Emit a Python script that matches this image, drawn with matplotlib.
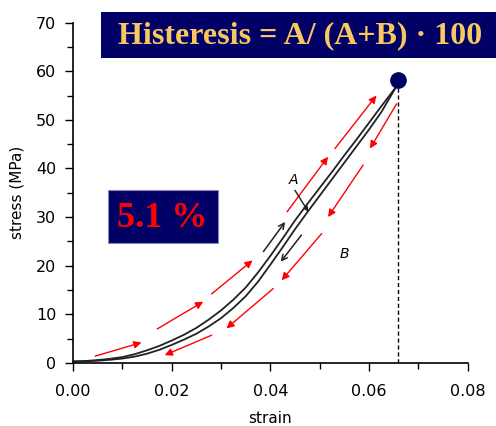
#!/usr/bin/env python3
# Stress-strain hysteresis loop (loading / unloading) with annotation boxes

import matplotlib.pyplot as plt
from matplotlib.patches import Rectangle
from matplotlib.ticker import MultipleLocator

# ===================== DATA =====================
STRAIN = [0.0, 0.0025, 0.005, 0.0075, 0.01, 0.0125, 0.015, 0.0175, 0.02,
          0.0225, 0.025, 0.0275, 0.03, 0.0325, 0.035, 0.0375, 0.04, 0.0425,
          0.045, 0.0475, 0.05, 0.0525, 0.055, 0.0575, 0.06, 0.0625, 0.0655]
STRESS_LOAD = [0.3, 0.4, 0.6, 0.85, 1.2, 1.8, 2.6, 3.5, 4.6,
               5.8, 7.2, 8.9, 10.8, 13.0, 15.5, 18.6, 22.0, 25.6,
               29.3, 32.7, 36.0, 39.3, 42.7, 46.0, 49.4, 52.8, 56.8]
STRESS_UNLOAD = [0.3, 0.35, 0.45, 0.65, 0.9, 1.3, 1.9, 2.7, 3.7,
                 4.8, 6.0, 7.5, 9.2, 11.3, 13.7, 16.7, 20.2, 23.8,
                 27.5, 31.0, 34.4, 37.8, 41.2, 44.6, 48.0, 51.6, 56.8]

PEAK_STRAIN = 0.0659
PEAK_STRESS = 58.1

# red direction arrows: (x0, y0, x1, y1) in data units
LOAD_ARROWS = [
    (0.0045, 1.4, 0.0139, 4.2),
    (0.0171, 7.0, 0.0264, 12.6),
    (0.0281, 14.2, 0.0364, 21.1),
    (0.0434, 31.1, 0.0517, 42.4),
    (0.0531, 44.1, 0.0615, 55.0),
]
UNLOAD_ARROWS = [
    (0.0656, 53.3, 0.0602, 44.1),
    (0.0588, 40.7, 0.0517, 30.0),
    (0.0504, 26.6, 0.0423, 17.0),
    (0.0406, 15.3, 0.0311, 7.1),
    (0.0281, 5.7, 0.0186, 1.6),
]
# small black arrows along the loop
BLACK_ARROWS = [
    (0.0386, 22.9, 0.0430, 29.0),
    (0.0463, 26.3, 0.0421, 20.8),
]
LABEL_A = (0.0446, 37.6)
ARROW_A = (0.0450, 35.5, 0.0477, 31.1)
LABEL_B = (0.0551, 22.4)

TITLE_TEXT = "Histeresis = A/ (A+B) \u00b7 100"
RESULT_TEXT = "5.1 %"

NAVY = "#000066"
GOLD = "#F9C760"

# ===================== PLOT =====================
def draw_arrows(ax, arrows, color, style, lw=1.0, scale=11):
    for x0, y0, x1, y1 in arrows:
        ax.annotate("", xy=(x1, y1), xytext=(x0, y0),
                    arrowprops=dict(arrowstyle=style, color=color, lw=lw,
                                    mutation_scale=scale, shrinkA=0, shrinkB=0))


def main():
    fig = plt.figure(figsize=(4.96, 4.26), dpi=100)
    ax = fig.add_axes([0.147, 0.148, 0.796, 0.799])

    ax.plot(STRAIN, STRESS_LOAD, color="#222222", lw=1.3)
    ax.plot(STRAIN, STRESS_UNLOAD, color="#222222", lw=1.3)

    ax.plot([PEAK_STRAIN, PEAK_STRAIN], [0, PEAK_STRESS], color="black",
            lw=1.0, ls=(0, (3, 2)))
    ax.plot([PEAK_STRAIN], [PEAK_STRESS], "o", color=NAVY, ms=11, zorder=5)

    draw_arrows(ax, LOAD_ARROWS, "red", "-|>")
    draw_arrows(ax, UNLOAD_ARROWS, "red", "-|>")
    draw_arrows(ax, BLACK_ARROWS, "#222222", "->", lw=1.1, scale=10)
    draw_arrows(ax, [ARROW_A], "#222222", "-|>", lw=1.0, scale=7)

    ax.text(*LABEL_A, "A", fontsize=10, style="italic", ha="center", va="center")
    ax.text(*LABEL_B, "B", fontsize=10, style="italic", ha="center", va="center")

    ax.set_xlim(0, 0.08)
    ax.set_ylim(0, 70)
    ax.xaxis.set_major_locator(MultipleLocator(0.02))
    ax.xaxis.set_minor_locator(MultipleLocator(0.01))
    ax.yaxis.set_major_locator(MultipleLocator(10))
    ax.yaxis.set_minor_locator(MultipleLocator(5))
    ax.xaxis.set_major_formatter(plt.FormatStrFormatter("%.2f"))
    ax.tick_params(which="major", length=6, width=1.0, labelsize=11.5)
    ax.tick_params(which="minor", length=4, width=1.0)
    ax.tick_params(axis="y", pad=6)
    ax.tick_params(axis="x", pad=9)
    for side in ("top", "right"):
        ax.spines[side].set_visible(False)
    ax.spines["left"].set_linewidth(1.2)
    ax.spines["bottom"].set_linewidth(1.2)

    ax.set_xlabel("strain", fontsize=11, labelpad=9)
    ax.set_ylabel("stress (MPa)", fontsize=11, labelpad=8)

    # formula box across the top
    fig.patches.append(Rectangle((0.2036, 0.8646), 0.7964, 0.108,
                                 transform=fig.transFigure, facecolor=NAVY,
                                 edgecolor="none", zorder=10))
    fig.text(0.605, 0.915, TITLE_TEXT, color=GOLD, fontsize=23,
             fontweight="bold", family="Liberation Serif",
             ha="center", va="center", zorder=11)

    # result box
    fig.patches.append(Rectangle((0.2184, 0.4289), 0.2218, 0.1251,
                                 transform=fig.transFigure, facecolor=NAVY,
                                 edgecolor="#8888bb", lw=0.8, zorder=10))
    fig.text(0.327, 0.487, RESULT_TEXT, color="red", fontsize=26,
             fontweight="bold", family="Liberation Serif",
             ha="center", va="center", zorder=11)

    fig.savefig("out.png", dpi=100)
    plt.close(fig)


if __name__ == "__main__":
    main()
